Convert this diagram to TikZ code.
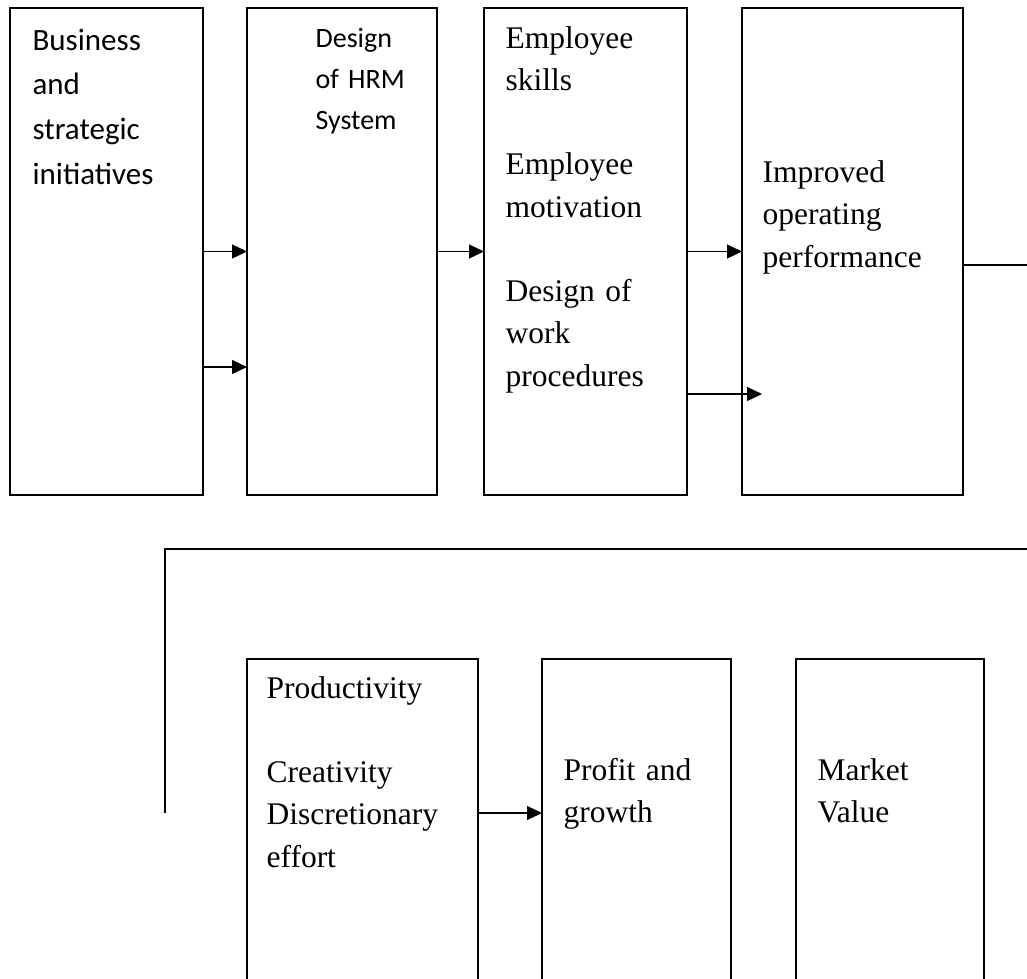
\documentclass[tikz,border=0pt]{standalone}
\usepackage{fontspec}
\setmainfont{Liberation Serif}
\newfontfamily\calibri{Carlito}
\usetikzlibrary{positioning,arrows.meta}

\tikzset{
  box/.style={draw, minimum height=487pt, inner sep=0pt, outer sep=0pt},
  lowbox/.style={draw, minimum height=340pt, inner sep=0pt, outer sep=0pt},
  sertxt/.style={anchor=base west, inner sep=0pt, align=left, text width=180pt,
    font=\fontsize{31.5}{42.5}\selectfont},
  sanstxt/.style={anchor=base west, inner sep=0pt, align=left, text width=170pt,
    font=\calibri\fontsize{31}{44.7}\selectfont}
}

\begin{document}
\begin{tikzpicture}[x=1pt, y=-1pt, line width=1.2pt, >={Triangle[length=15pt,width=14pt]}]
  \clip (0,0) rectangle (1027,978);

  % first row
  \node (b1) [box, minimum width=193pt, anchor=north west] at (10,8) {};
  \node (b2) [box, minimum width=190pt, right=44pt of b1] {};
  \node (b3) [box, minimum width=203pt, right=47pt of b2] {};
  \node (b4) [box, minimum width=221pt, right=55pt of b3] {};

  % second row
  \node (b5) [lowbox, minimum width=231pt, anchor=north west] at (247,659) {};
  \node (b6) [lowbox, minimum width=189pt, right=64pt of b5] {};
  \node (b7) [lowbox, minimum width=188pt, right=65pt of b6] {};

  \node (t1) [sanstxt] at ([shift={(22pt,-42pt)}]b1.north west)
    {Business\\and\\strategic\\initiatives};
  \node (t2) [sanstxt, text width=110pt, font=\calibri\fontsize{28}{41}\selectfont]
    at ([shift={(68pt,-39pt)}]b2.north west) {Design\\of HRM\\System};
  \node (t3) [sertxt] at ([shift={(21pt,-40pt)}]b3.north west)
    {Employee\\skills\\[41.5pt]Employee\\motivation\\[41.5pt]Design of\\work\\procedures};
  \node (t4) [sertxt] at ([shift={(20pt,-174pt)}]b4.north west)
    {Improved\\operating\\performance};
  \node (t5) [sertxt] at ([shift={(19pt,-39pt)}]b5.north west)
    {Productivity\\[41.5pt]Creativity\\Discretionary\\effort};
  \node (t6) [sertxt] at ([shift={(21pt,-121pt)}]b6.north west) {Profit and\\growth};
  \node (t7) [sertxt] at ([shift={(21pt,-121pt)}]b7.north west) {Market\\Value};

  \coordinate (r1) at (1027,265);
  \coordinate (r2) at (1027,549);
  \coordinate (c1) at (165,549);
  \coordinate (c2) at (165,813);

  \draw[->] (b1) -- (b2);
  \draw[->] ([yshift=-115.5pt]b1.east) -- ([yshift=-115.5pt]b2.west);
  \draw[->] (b2) -- (b3);
  \draw[->] (b3) -- (b4);
  \draw[->] ([yshift=-142.5pt]b3.east) -- ([shift={(20pt,-142.5pt)}]b4.west);
  \draw ([yshift=-13.5pt]b4.east) -- (r1);
  \draw (r2) -- (c1) -- (c2);
  \draw[->] ([yshift=16pt]b5.east) -- ([yshift=16pt]b6.west);
\end{tikzpicture}
\end{document}
